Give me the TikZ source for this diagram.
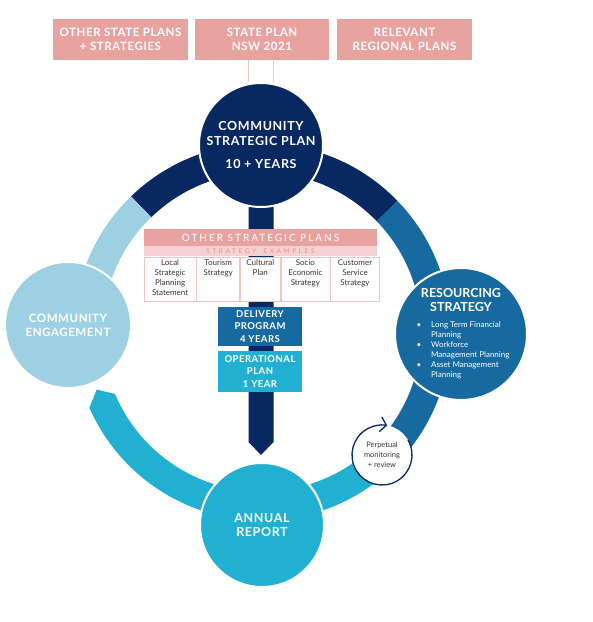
\documentclass[tikz,border=0pt]{standalone}
\usepackage{fontspec}
\setmainfont{Lato}
\newfontfamily\spacedfont[LetterSpace=20]{Lato}
\newfontfamily\widerfont[LetterSpace=40]{Lato}
\newfontfamily\widefont[LetterSpace=5]{Lato}
\usetikzlibrary{positioning,arrows.meta}
\definecolor{navy}{RGB}{8,40,98}
\definecolor{midblue}{RGB}{22,106,160}
\definecolor{cyanblue}{RGB}{34,176,210}
\definecolor{paleblue}{RGB}{157,208,227}
\definecolor{rose}{RGB}{232,163,160}
\definecolor{palerose}{RGB}{245,210,209}
\definecolor{roseline}{RGB}{240,196,195}
\definecolor{roseink}{RGB}{226,146,146}
\definecolor{ink}{RGB}{55,55,55}
\newcommand{\celltxt}[2]{\parbox[c][38pt][t]{#1}{\centering #2}}
\begin{document}
\begin{tikzpicture}[x=1pt,y=1pt,
  main node/.style={circle,draw=white,line width=2pt,inner sep=0pt,minimum size=124pt,text=white,align=center,font=\widefont\bfseries\fontsize{12.5}{14.5}\selectfont},
  band/.style={line width=29pt},
  top box/.style={rectangle,fill=rose,text=white,inner sep=0pt,minimum width=135pt,minimum height=41pt,align=center,font=\widefont\bfseries\fontsize{11.5}{13.5}\selectfont},
  plan box/.style={rectangle,inner sep=0pt,minimum width=84pt,text=white,align=center,font=\widefont\bfseries\fontsize{9.5}{12.5}\selectfont},
  cell/.style={draw=roseline,line width=0.6pt,fill=white,minimum height=44pt,inner sep=0pt,anchor=north west,text=ink,font=\fontsize{8}{9.8}\selectfont}]
  \useasboundingbox (0,0) rectangle (593,622);
  \coordinate (hub) at (262,290);

  % ring
  \draw[band,navy] ([shift={(44:174)}]hub) arc[start angle=44,end angle=134,radius=174];
  \draw[band,midblue] ([shift={(44:174)}]hub) arc[start angle=44,end angle=-46,radius=174];
  \draw[band,paleblue] ([shift={(134:174)}]hub) arc[start angle=134,end angle=185,radius=174];
  \fill[cyanblue] ([shift={(-46:188.5)}]hub) arc[start angle=-46,end angle=-156.3,radius=188.5]
    -- ([shift={(-160.8:175)}]hub) -- ([shift={(-157.1:159.5)}]hub)
    arc[start angle=-157.1,end angle=-46,radius=159.5] -- cycle;

  % arrow down the middle
  \fill[navy] (248.5,470) -- (248.5,180) -- (261,167) -- (273.5,180) -- (273.5,470) -- cycle;

  \node[main node,fill=navy] (csp) at (261,477) {COMMUNITY\\STRATEGIC PLAN\\[9pt]10 + YEARS};
  \node[main node,fill=cyanblue] (ar) at (262,97) {ANNUAL\\REPORT};
  \node[main node,fill=paleblue,minimum size=126pt,font=\widefont\bfseries\fontsize{11.5}{14}\selectfont] (ce) at (68,297) {COMMUNITY\\ENGAGEMENT};
  \node[main node,fill=midblue,minimum size=132pt] (rs) at (461,288) {};
  \node[text=white,align=center,font=\bfseries\fontsize{12.5}{14.5}\selectfont] (rstitle) at ([yshift=34pt]rs.center) {RESOURCING\\STRATEGY};
  \node[text=white,font=\fontsize{8}{10}\selectfont] (rslist) at ([xshift=2pt,yshift=-17pt]rs.center)
    {\begin{tabular}{@{}l@{\hspace{10pt}}l@{}}
      \textbullet & Long Term Financial\\
                  & Planning\\
      \textbullet & Workforce\\
                  & Management Planning\\
      \textbullet & Asset Management\\
                  & Planning
     \end{tabular}};

  % monitoring
  \node[circle,fill=white,minimum size=60pt,inner sep=0pt,align=center,text=ink,font=\fontsize{7.5}{10}\selectfont] (pm) at (382,167) {Perpetual\\monitoring\\+ review};
  \draw[navy,line width=1.3pt,-{Straight Barb[length=6pt,width=15pt]}] ([shift={(30:30)}]pm.center) arc[start angle=30,end angle=-280,radius=30];

  % other strategic plans
  \node[rectangle,fill=rose,inner sep=0pt,minimum width=233pt,minimum height=17pt,text=white,font=\spacedfont\fontsize{10}{11}\selectfont] (osp) at (260.5,384.5) {OTHER STRATEGIC PLANS};
  \node[rectangle,fill=palerose,inner sep=0pt,minimum width=233pt,minimum height=10pt,text=roseink,font=\widerfont\fontsize{6.5}{7}\selectfont] (examples) [below=0pt of osp] {STRATEGY\hspace{3pt} EXAMPLES};
  \node[cell,minimum width=52pt] (local) at (examples.south west) {\celltxt{50pt}{Local\\Strategic\\Planning\\Statement}};
  \node[cell,minimum width=43pt] (tourism) at (local.north east) {\celltxt{41pt}{Tourism\\Strategy}};
  \node[cell,minimum width=40pt] (cultural) at (tourism.north east) {\celltxt{38pt}{Cultural\\Plan}};
  \node[cell,minimum width=49pt] (socio) at (cultural.north east) {\celltxt{47pt}{Socio\\Economic\\Strategy}};
  \node[cell,minimum width=49pt] (customer) at (socio.north east) {\celltxt{47pt}{Customer\\Service\\Strategy}};

  \node[plan box,fill=midblue,minimum height=39pt] (dp) at (260,295.5) {DELIVERY\\PROGRAM\\4 YEARS};
  \node[plan box,fill=cyanblue,minimum height=41pt] (op) at (260,250.5) {OPERATIONAL\\PLAN\\1 YEAR};

  % state and regional plans
  \node[top box] (other) at (120.5,582.5) {OTHER STATE PLANS\\+ STRATEGIES};
  \node[top box,minimum width=134pt] (nsw) at (262,582.5) {STATE PLAN\\NSW 2021};
  \node[top box] (regional) at (404.5,582.5) {RELEVANT\\REGIONAL PLANS};

  \draw[roseline,line width=0.8pt] ([xshift=-14pt]nsw.south) -- ([xshift=-14pt]nsw.south |- csp.north);
  \draw[roseline,line width=0.8pt] ([xshift=11pt]nsw.south) -- ([xshift=11pt]nsw.south |- csp.north);
\end{tikzpicture}
\end{document}
